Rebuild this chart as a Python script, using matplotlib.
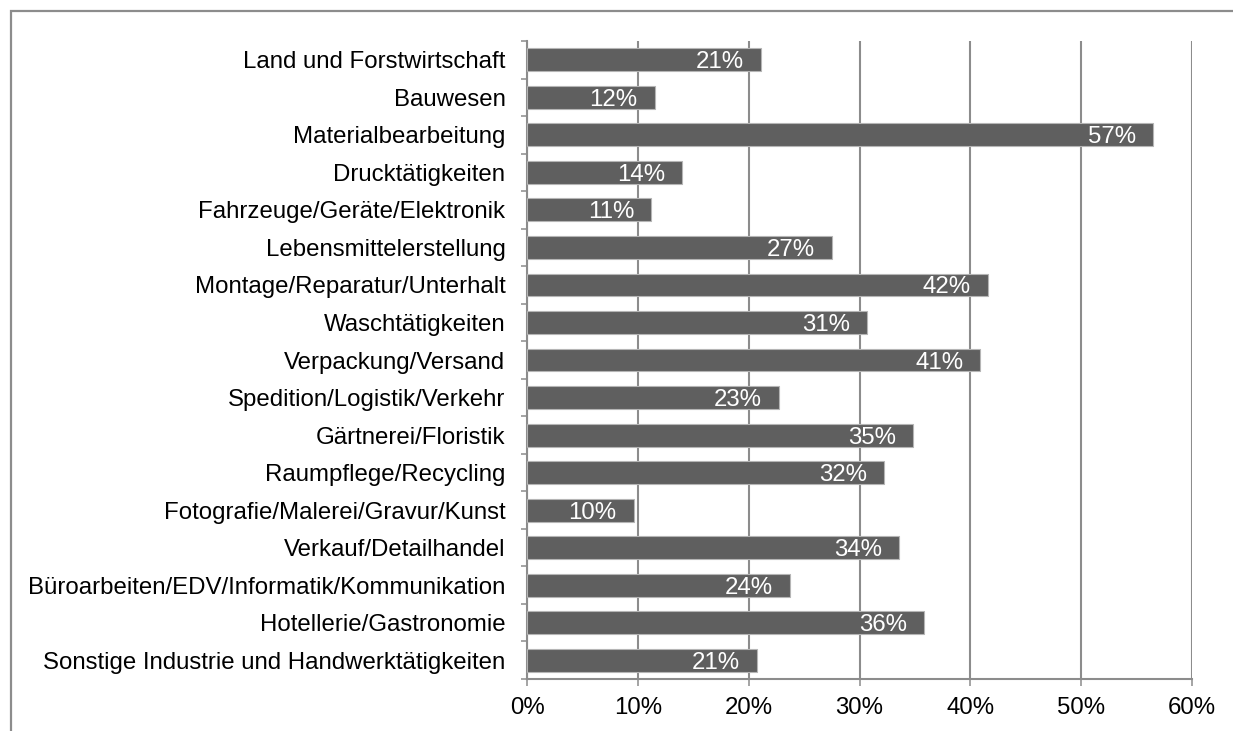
import matplotlib
matplotlib.use("Agg")
import matplotlib.pyplot as plt
from matplotlib.patches import Rectangle
from matplotlib.ticker import FixedLocator, PercentFormatter
import numpy as np

plt.rcParams["font.family"] = ["Liberation Sans", "DejaVu Sans"]

# --- data -----------------------------------------------------------------------------------
categories = [
    "Land und Forstwirtschaft",
    "Bauwesen",
    "Materialbearbeitung",
    "Drucktätigkeiten",
    "Fahrzeuge/Geräte/Elektronik",
    "Lebensmittelerstellung",
    "Montage/Reparatur/Unterhalt",
    "Waschtätigkeiten",
    "Verpackung/Versand",
    "Spedition/Logistik/Verkehr",
    "Gärtnerei/Floristik",
    "Raumpflege/Recycling",
    "Fotografie/Malerei/Gravur/Kunst",
    "Verkauf/Detailhandel",
    "Büroarbeiten/EDV/Informatik/Kommunikation",
    "Hotellerie/Gastronomie",
    "Sonstige Industrie und Handwerktätigkeiten",
]
shares = [21.1, 11.5, 56.5, 14.0, 11.2, 27.5, 41.6, 30.7, 40.9,
          22.7, 34.8, 32.2, 9.6, 33.6, 23.7, 35.8, 20.7]
labels = ["21%", "12%", "57%", "14%", "11%", "27%", "42%", "31%", "41%",
          "23%", "35%", "32%", "10%", "34%", "24%", "36%", "21%"]
x_ticks = [0, 10, 20, 30, 40, 50, 60]

GRID = "#8c8c8c"
BAR = "#5f5f5f"
FS = 17.3

fig = plt.figure(figsize=(12.33, 7.31), dpi=100)
ax = fig.add_axes([0.4277, 0.0711, 0.9665 - 0.4277, 0.9439 - 0.0711])

# outer chart frame (only top and left edges fall inside the picture)
fig.patches.append(Rectangle((11 / 1233, -0.1), 1.2, (720 + 73) / 731,
                             transform=fig.transFigure, fill=False,
                             edgecolor="#8c8c8c", lw=1.6))

y = np.arange(len(categories))
ax.barh(y, shares, height=0.61, color=BAR, edgecolor="#b5b5b5", lw=0.8, zorder=3)

for yi, v, lab in zip(y, shares, labels):
    ax.annotate(lab, (v, yi), xytext=(-17, 0), textcoords="offset pixels",
                ha="right", va="center_baseline", color="white", fontsize=FS, zorder=4)

ax.set_xlim(0, 60)
ax.set_ylim(len(categories) - 0.5, -0.5)

ax.xaxis.set_major_locator(FixedLocator(x_ticks))
ax.xaxis.set_major_formatter(PercentFormatter(decimals=0))
ax.grid(axis="x", color=GRID, lw=1.5, zorder=1)

# y: tick marks at category boundaries, labels at centres
ax.yaxis.set_major_locator(FixedLocator(np.arange(-0.5, len(categories), 1.0)))
ax.yaxis.set_major_formatter(plt.NullFormatter())
ax.yaxis.set_minor_locator(FixedLocator(y))
ax.set_yticklabels(categories, minor=True)
ax.tick_params(axis="y", which="major", length=4.3, width=1.1, color=GRID, direction="out")
ax.tick_params(axis="y", which="minor", length=0, pad=15.8, labelsize=FS)
ax.tick_params(axis="x", length=5, width=1.1, color=GRID, direction="out",
               pad=8, labelsize=FS)

for side in ("top", "right"):
    ax.spines[side].set_visible(False)
for side in ("left", "bottom"):
    ax.spines[side].set_color(GRID)
    ax.spines[side].set_linewidth(1.5)

fig.savefig("out.png", dpi=100)
